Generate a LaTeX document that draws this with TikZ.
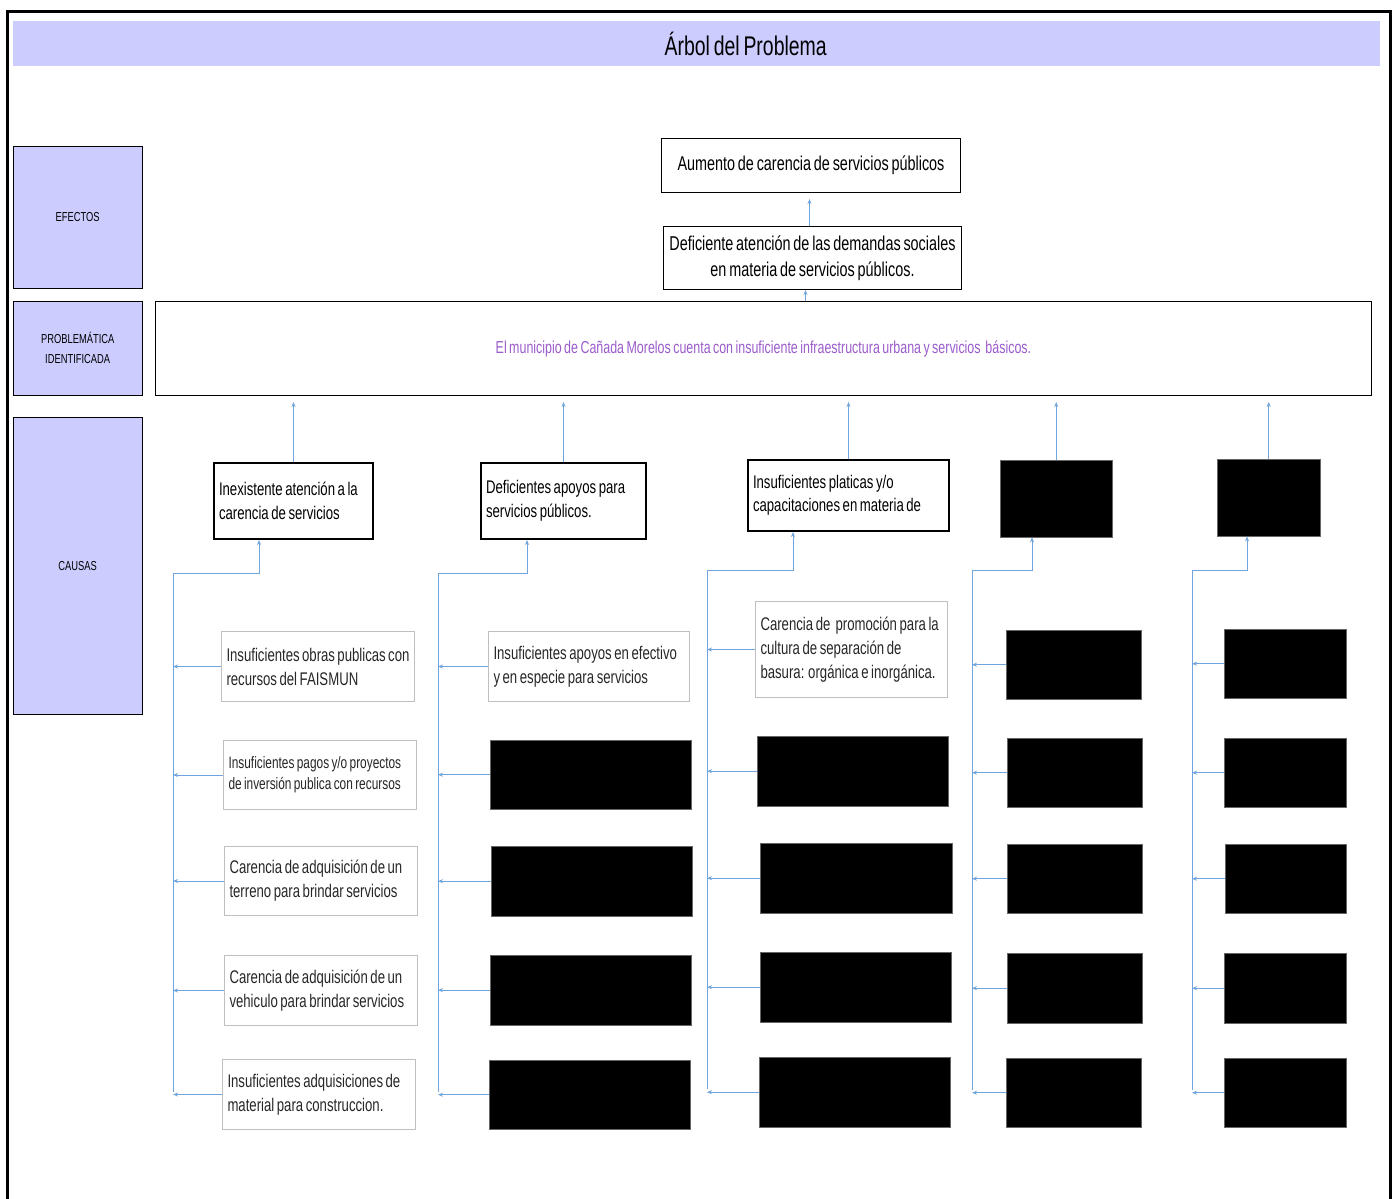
\documentclass[tikz,border=0pt]{standalone}
\usepackage{fontspec}
\setmainfont{Liberation Sans}[FakeStretch=0.72,WordSpace=0.7]
\usetikzlibrary{positioning,arrows.meta}

\definecolor{lila}{HTML}{CCCCFF}
\definecolor{flecha}{HTML}{6FA5DC}
\definecolor{morado}{HTML}{9A5CCB}
\definecolor{borde}{HTML}{BFBFBF}

\begin{document}
\begin{tikzpicture}[x=1pt,y=-1pt,
    lbl/.style={draw=black,fill=lila,anchor=north west,inner sep=0pt,align=center,font=\fontsize{13}{20}\selectfont},
    eff/.style={draw=black,line width=1pt,anchor=north west,inner sep=0pt,align=center,font=\fontsize{20}{26}\selectfont},
    hdr/.style={draw=black,line width=2pt,anchor=north west,inner xsep=5pt,inner ysep=0pt,align=flush left,font=\fontsize{18.3}{24}\selectfont},
    sub/.style={draw=borde,line width=1pt,anchor=north west,inner xsep=5pt,inner ysep=0pt,align=flush left,text=black!85,font=\fontsize{18.3}{24}\selectfont},
    blk/.style={draw=black!60,fill=black,anchor=north west,inner sep=0pt},
    arr/.style={-{Stealth[length=5pt,width=4pt]},draw=flecha,line width=0.9pt}]
    \useasboundingbox (0,0) rectangle (1398,1199);
    % marco
    \draw[line width=3pt] (7.5,1199) -- (7.5,11.5) -- (1390,11.5) -- (1390,1199);
    \node[fill=lila,anchor=north west,minimum width=1367,minimum height=45,inner sep=0pt,
      label={[xshift=49pt,font=\fontsize{27}{30}\selectfont]center:Árbol del Problema}] (title) at (13,21) {};

    % etiquetas
    \node[lbl,minimum width=129,minimum height=142] (lblE) at (13,146) {EFECTOS};
    \node[lbl,minimum width=129,minimum height=94] (lblP) at (13,301) {PROBLEMÁTICA\\IDENTIFICADA};
    \node[lbl,minimum width=129,minimum height=297] (lblC) at (13,417) {CAUSAS};

    % problema y efectos
    \node[draw=black,line width=1pt,anchor=north west,minimum width=1216,minimum height=94,inner sep=0pt,text=morado,font=\fontsize{17.3}{20}\selectfont] (prob) at (155,301) {El municipio de Cañada Morelos cuenta con insuficiente infraestructura urbana y servicios\ \ básicos.};
    \node[eff,minimum width=299,minimum height=54] (e1) at (661,138) {Aumento de carencia de servicios públicos};
    \node[eff,minimum width=298,minimum height=63] (e2) at (663,226) {Deficiente atención de las demandas sociales\\en materia de servicios públicos.};
    \draw[arr,shorten >=6pt] ([xshift=-3pt]e2.north) -- ([xshift=-3pt]e2.north |- e1.south);
    \draw[arr] ([xshift=-7pt]e2.south |- prob.north) -- ([xshift=-7pt]e2.south);

    % causas
    \node[hdr,text width=149,minimum height=76] (c1) at (213,462) {Inexistente atención a la\\carencia de servicios};
    \node[hdr,text width=155,minimum height=76] (c2) at (480,462) {Deficientes apoyos para\\servicios públicos.};
    \node[hdr,text width=191,minimum height=71,font=\fontsize{18.3}{23}\selectfont] (c3) at (747,459) {Insuficientes platicas y/o\\capacitaciones en materia de};
    \node[blk,minimum width=112,minimum height=77] (c4) at (1000,460) {};
    \node[blk,minimum width=103,minimum height=77] (c5) at (1217,459) {};
    \draw[arr,shorten >=6pt] (c1.north) -- (c1.north |- prob.south);
    \draw[arr,shorten >=6pt] (c2.north) -- (c2.north |- prob.south);
    \draw[arr,shorten >=6pt] (c3.north) -- (c3.north |- prob.south);
    \draw[arr,shorten >=6pt] (c4.north) -- (c4.north |- prob.south);
    \draw[arr,shorten >=6pt] (c5.north) -- (c5.north |- prob.south);

    % subcausas, columna 1
    \node[sub,text width=183,minimum height=70] (s11) at (221,631) {Insuficientes obras publicas con\\recursos del FAISMUN};
    \node[sub,text width=183,minimum height=69,font=\fontsize{16.5}{21}\selectfont] (s12) at (223,740) {Insuficientes pagos y/o proyectos\\de inversión publica con recursos};
    \node[sub,text width=183,minimum height=69] (s13) at (224,846) {Carencia de adquisición de un\\terreno para brindar servicios};
    \node[sub,text width=183,minimum height=70] (s14) at (224,955) {Carencia de adquisición de un\\vehiculo para brindar servicios};
    \node[sub,text width=183,minimum height=70] (s15) at (222,1059) {Insuficientes adquisiciones de\\material para construccion.};
    % columna 2
    \node[sub,text width=191,minimum height=70] (s21) at (488,631) {Insuficientes apoyos en efectivo\\y en especie para servicios};
    \node[blk,minimum width=201,minimum height=69] (s22) at (490,740) {};
    \node[blk,minimum width=201,minimum height=70] (s23) at (491,846) {};
    \node[blk,minimum width=201,minimum height=70] (s24) at (490,955) {};
    \node[blk,minimum width=201,minimum height=69] (s25) at (489,1060) {};
    % columna 3
    \node[sub,text width=182,minimum height=96] (s31) at (755,601) {Carencia de\ \ promoción para la\\cultura de separación de\\basura: orgánica e inorgánica.};
    \node[blk,minimum width=191,minimum height=70] (s32) at (757,736) {};
    \node[blk,minimum width=192,minimum height=70] (s33) at (760,843) {};
    \node[blk,minimum width=191,minimum height=70] (s34) at (760,952) {};
    \node[blk,minimum width=191,minimum height=70] (s35) at (759,1057) {};
    % columna 4
    \node[blk,minimum width=135,minimum height=69] (s41) at (1006,630) {};
    \node[blk,minimum width=135,minimum height=69] (s42) at (1007,738) {};
    \node[blk,minimum width=135,minimum height=69] (s43) at (1007,844) {};
    \node[blk,minimum width=135,minimum height=70] (s44) at (1007,953) {};
    \node[blk,minimum width=135,minimum height=69] (s45) at (1006,1058) {};
    % columna 5
    \node[blk,minimum width=122,minimum height=69] (s51) at (1224,629) {};
    \node[blk,minimum width=122,minimum height=69] (s52) at (1224,738) {};
    \node[blk,minimum width=121,minimum height=69] (s53) at (1225,844) {};
    \node[blk,minimum width=122,minimum height=70] (s54) at (1224,953) {};
    \node[blk,minimum width=122,minimum height=69] (s55) at (1224,1058) {};

    % troncos
    \coordinate (j1) at (259,573);  \coordinate (t1) at (173,1092);
    \coordinate (j2) at (527,573);  \coordinate (t2) at (438,1092);
    \coordinate (j3) at (793,570);  \coordinate (t3) at (707,1089);
    \coordinate (j4) at (1032,570); \coordinate (t4) at (972,1090);
    \coordinate (j5) at (1247,570); \coordinate (t5) at (1192,1090);
    \draw[arr] (t1) |- (j1) -- (j1 |- c1.south);
    \draw[arr] (t2) |- (j2) -- (j2 |- c2.south);
    \draw[arr] (t3) |- (j3) -- (j3 |- c3.south);
    \draw[arr] (t4) |- (j4) -- (j4 |- c4.south);
    \draw[arr] (t5) |- (j5) -- (j5 |- c5.south);

    \draw[arr] (s11.west) -- (s11.west -| t1);
    \draw[arr] (s12.west) -- (s12.west -| t1);
    \draw[arr] (s13.west) -- (s13.west -| t1);
    \draw[arr] (s14.west) -- (s14.west -| t1);
    \draw[arr] (s15.west) -- (s15.west -| t1);
    \draw[arr] (s21.west) -- (s21.west -| t2);
    \draw[arr] (s22.west) -- (s22.west -| t2);
    \draw[arr] (s23.west) -- (s23.west -| t2);
    \draw[arr] (s24.west) -- (s24.west -| t2);
    \draw[arr] (s25.west) -- (s25.west -| t2);
    \draw[arr] (s31.west) -- (s31.west -| t3);
    \draw[arr] (s32.west) -- (s32.west -| t3);
    \draw[arr] (s33.west) -- (s33.west -| t3);
    \draw[arr] (s34.west) -- (s34.west -| t3);
    \draw[arr] (s35.west) -- (s35.west -| t3);
    \draw[arr] (s41.west) -- (s41.west -| t4);
    \draw[arr] (s42.west) -- (s42.west -| t4);
    \draw[arr] (s43.west) -- (s43.west -| t4);
    \draw[arr] (s44.west) -- (s44.west -| t4);
    \draw[arr] (s45.west) -- (s45.west -| t4);
    \draw[arr] (s51.west) -- (s51.west -| t5);
    \draw[arr] (s52.west) -- (s52.west -| t5);
    \draw[arr] (s53.west) -- (s53.west -| t5);
    \draw[arr] (s54.west) -- (s54.west -| t5);
    \draw[arr] (s55.west) -- (s55.west -| t5);
\end{tikzpicture}
\end{document}
